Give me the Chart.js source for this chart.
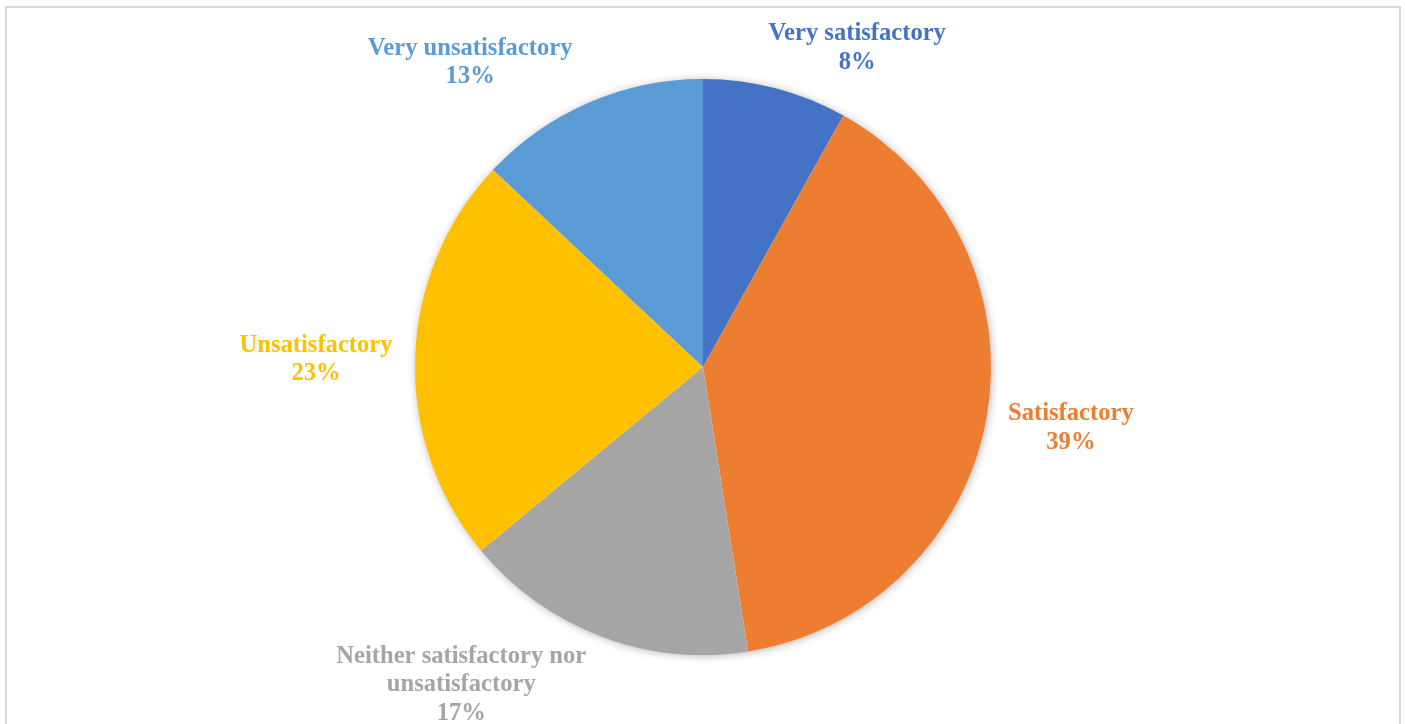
<!DOCTYPE html>
<html>
<head>
<meta charset="utf-8">
<script src="https://cdn.jsdelivr.net/npm/chart.js@4.4.1/dist/chart.umd.min.js"></script>
<style>
  html, body { margin: 0; padding: 0; background: #fff; overflow: hidden; }
  #frame {
    position: absolute; left: 5px; top: 6px; width: 1396px; height: 740px;
    border: 2px solid #d9d9d9; box-sizing: border-box;
  }
  #wrap { position: absolute; left: 0; top: 0; width: 1405px; height: 724px; }
</style>
</head>
<body>
<div id="frame"></div>
<div id="wrap"><canvas id="pieChart"></canvas></div>
<script>
const labels = [
  "Very satisfactory",
  "Satisfactory",
  "Neither satisfactory nor unsatisfactory",
  "Unsatisfactory",
  "Very unsatisfactory",
];
const labelLines = [
  ["Very satisfactory"],
  ["Satisfactory"],
  ["Neither satisfactory nor", "unsatisfactory"],
  ["Unsatisfactory"],
  ["Very unsatisfactory"],
];
const shares = [8.1, 39.4, 16.5, 23.0, 13.0];
const pctText = ["8%", "39%", "17%", "23%", "13%"];
const colors = ["#4472C4", "#ED7D31", "#A5A5A5", "#FFC000", "#5B9BD5"];

// where each label block sits, as angle (deg from top, clockwise) and distance in radii
const labelAngle = [25.7, 99.2, 217.4, 271.3, 322.7];
const labelDist = [1.235, 1.294, 1.382, 1.344, 1.334];

const pieShadow = {
  id: "pieShadow",
  beforeDatasetsDraw(chart) {
    const arc = chart.getDatasetMeta(0).data[0];
    if (!arc) return;
    const ctx = chart.ctx;
    ctx.save();
    ctx.shadowColor = "rgba(0,0,0,0.35)";
    ctx.shadowBlur = 10;
    ctx.shadowOffsetX = 1;
    ctx.shadowOffsetY = 1;
    ctx.fillStyle = "#ffffff";
    ctx.beginPath();
    ctx.arc(arc.x, arc.y, arc.outerRadius - 1, 0, Math.PI * 2);
    ctx.fill();
    ctx.restore();
  },
};

const outsideLabels = {
  id: "outsideLabels",
  afterDatasetsDraw(chart) {
    const ctx = chart.ctx;
    const meta = chart.getDatasetMeta(0);
    ctx.save();
    ctx.font = "bold 24.6px 'Liberation Serif', 'Times New Roman', serif";
    ctx.textAlign = "center";
    ctx.textBaseline = "middle";
    const lineH = 28.5;
    meta.data.forEach((arc, i) => {
      const a = (labelAngle[i] * Math.PI) / 180;
      const r = arc.outerRadius * labelDist[i];
      const cx = arc.x + Math.sin(a) * r;
      const cy = arc.y - Math.cos(a) * r + 1.5;
      const lines = labelLines[i].concat([pctText[i]]);
      const top = cy - ((lines.length - 1) * lineH) / 2;
      ctx.fillStyle = colors[i];
      lines.forEach((t, k) => ctx.fillText(t, cx, top + k * lineH));
    });
    ctx.restore();
  },
};

const config = {
  type: "pie",
  data: {
    labels: labels,
    datasets: [
      {
        data: shares,
        backgroundColor: colors,
        borderWidth: 0,
      },
    ],
  },
  options: {
    responsive: true,
    maintainAspectRatio: false,
    animation: false,
    layout: {
      padding: { top: 79, bottom: 69, left: 1, right: 0 },
    },
    plugins: {
      legend: { display: false },
      tooltip: { enabled: false },
    },
  },
  plugins: [pieShadow, outsideLabels],
};

const pieChart = new Chart(document.getElementById("pieChart"), config);
</script>
</body>
</html>
